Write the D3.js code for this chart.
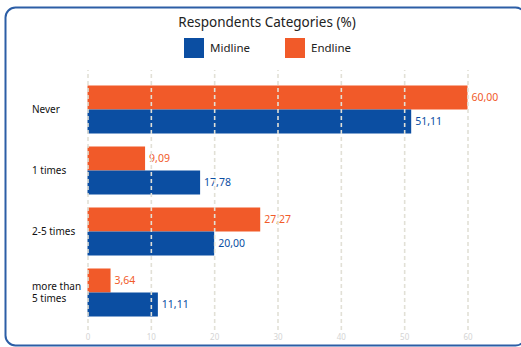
<!DOCTYPE html>
<html>
<head>
<meta charset="utf-8">
<script src="https://cdn.jsdelivr.net/npm/d3@7/dist/d3.min.js"></script>
<style>
  html, body { margin: 0; padding: 0; background: #fff; }
  svg { display: block; font-family: "Noto Sans", "Open Sans", sans-serif; }
</style>
</head>
<body>
<svg id="chart" width="521" height="347"></svg>
<script>
// Response frequency categories, shown top to bottom
const categories = ["Never", "1 times", "2-5 times", "more than 5 times"];
const categoryLines = [["Never"], ["1 times"], ["2-5 times"], ["more than", "5 times"]];
const seriesNames = ["Endline", "Midline"];
const endlineValues = [60.00, 9.09, 27.27, 3.64];
const midlineValues = [51.11, 17.78, 20.00, 11.11];
const xTicks = [0, 10, 20, 30, 40, 50, 60];

const colors = { Midline: "#0b4ea2", Endline: "#f15a29" };

const svg = d3.select("#chart");

// Rounded frame around the whole chart
svg.append("rect")
  .attr("x", 5.5).attr("y", 7.5)
  .attr("width", 520).attr("height", 338)
  .attr("rx", 10).attr("ry", 10)
  .attr("fill", "none")
  .attr("stroke", "#2c5ea6")
  .attr("stroke-width", 2);

// Title
svg.append("text")
  .attr("x", 267).attr("y", 27)
  .attr("text-anchor", "middle")
  .attr("font-size", 13.5)
  .attr("fill", "#222")
  .text("Respondents Categories (%)");

// Legend
const legendItems = [
  { name: "Midline", x: 184 },
  { name: "Endline", x: 285 }
];
const legend = svg.append("g");
legendItems.forEach(d => {
  legend.append("rect")
    .attr("x", d.x).attr("y", 38)
    .attr("width", 20).attr("height", 20)
    .attr("fill", colors[d.name]);
  legend.append("text")
    .attr("x", d.x + 26).attr("y", 52)
    .attr("font-size", 11.5)
    .attr("fill", "#222")
    .text(d.name);
});

// Scales
const x = d3.scaleLinear().domain([0, 60]).range([87.5, 467.5]);
const y = d3.scaleBand().domain(categories)
  .range([79, 323]).paddingInner(0.213).paddingOuter(0.1065);
const ySub = d3.scaleBand().domain(seriesNames).range([0, y.bandwidth()]);

const rows = categories.map((c, i) => ({
  category: c,
  lines: categoryLines[i],
  values: [
    { series: "Endline", value: endlineValues[i] },
    { series: "Midline", value: midlineValues[i] }
  ]
}));

const fmt = v => d3.format(".2f")(v).replace(".", ",");

// Bars
const groups = svg.append("g").selectAll("g")
  .data(rows).join("g")
  .attr("transform", d => `translate(0,${y(d.category)})`);

groups.selectAll("rect")
  .data(d => d.values).join("rect")
  .attr("x", x(0))
  .attr("y", d => ySub(d.series))
  .attr("width", d => x(d.value) - x(0))
  .attr("height", ySub.bandwidth())
  .attr("fill", d => colors[d.series]);

// Value labels
groups.selectAll("text.value")
  .data(d => d.values).join("text")
  .attr("class", "value")
  .attr("x", d => x(d.value) + 4)
  .attr("y", d => ySub(d.series) + ySub.bandwidth() / 2)
  .attr("dy", "0.35em")
  .attr("font-size", 10.5)
  .attr("fill", d => colors[d.series])
  .text(d => fmt(d.value));

// Dashed vertical gridlines drawn over the bars, with bottom axis labels
const xAxis = d3.axisBottom(x).tickValues(xTicks).tickSize(-(330 - 70)).tickPadding(4);
const axisG = svg.append("g")
  .attr("transform", "translate(0,330)")
  .call(xAxis);
axisG.select(".domain").remove();
axisG.selectAll(".tick line")
  .attr("stroke", "#e2e0d6")
  .attr("stroke-width", 1.6)
  .attr("stroke-dasharray", "4,3");
axisG.selectAll(".tick text")
  .attr("fill", "#d4d4d4")
  .attr("font-size", 8)
  .attr("font-family", "'Noto Sans', sans-serif");

// Category labels (multi-line where needed)
const lineGap = 12.5;
const catLabels = svg.append("g").selectAll("text")
  .data(rows).join("text")
  .attr("x", 32)
  .attr("font-size", 10)
  .attr("fill", "#111")
  .attr("y", d => y(d.category) + y.bandwidth() / 2 - (d.lines.length - 1) * lineGap / 2 + 3.5);
catLabels.selectAll("tspan")
  .data(d => d.lines).join("tspan")
  .attr("x", 32)
  .attr("dy", (d, i) => i === 0 ? 0 : lineGap)
  .text(d => d);
</script>
</body>
</html>
